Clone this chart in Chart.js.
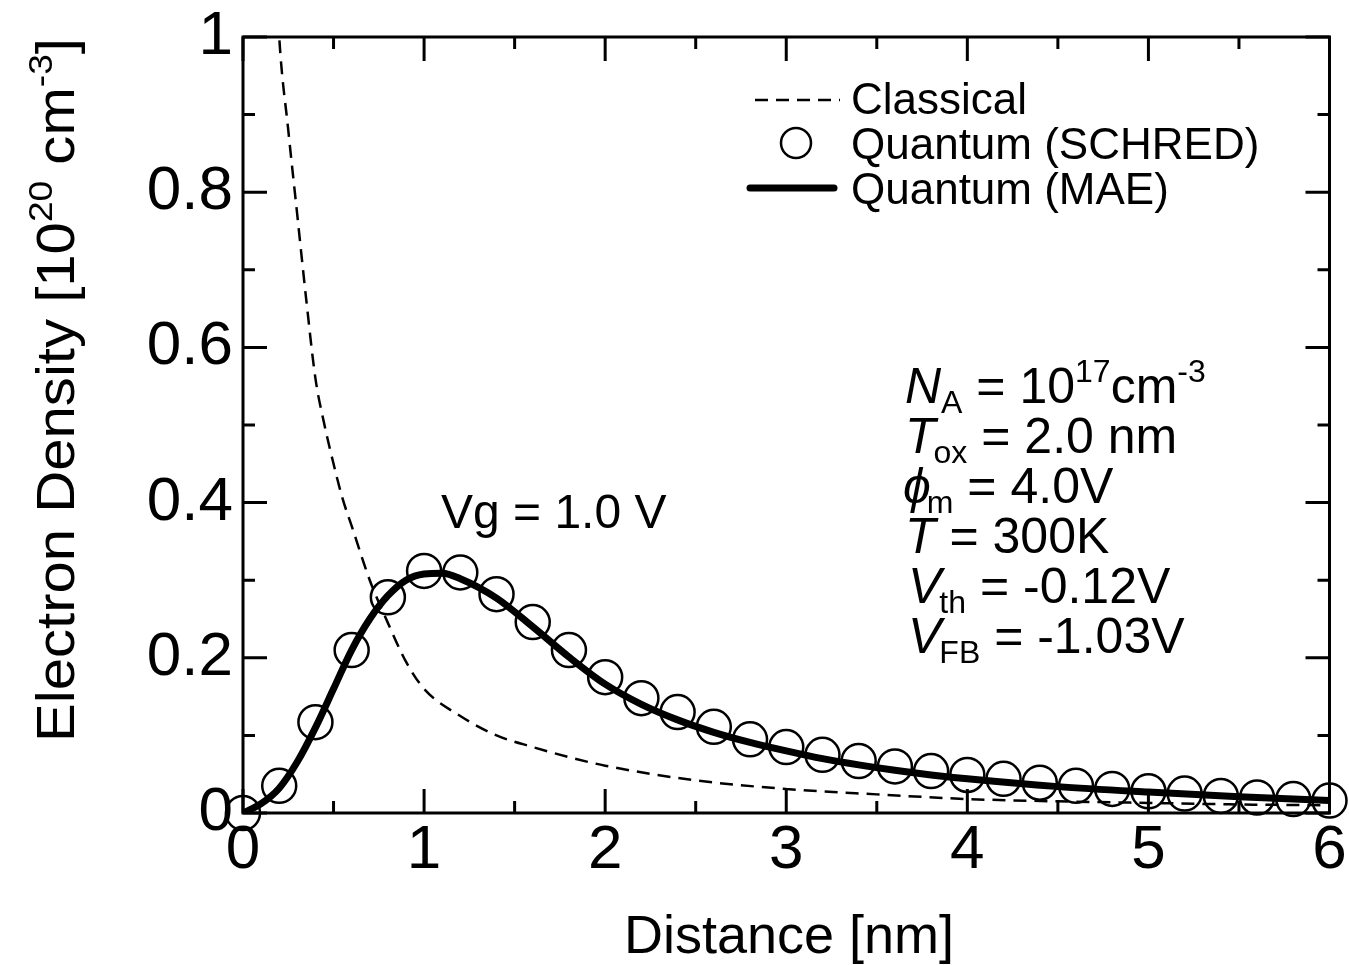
<!DOCTYPE html>
<html>
<head>
<meta charset="utf-8">
<script src="https://cdn.jsdelivr.net/npm/chart.js@4.4.1/dist/chart.umd.min.js"></script>
<style>html,body{margin:0;padding:0;background:#fff}</style>
</head>
<body>
<canvas id="density" width="1349" height="965"></canvas>
<script>
const FONT = '"Liberation Sans", Arial, sans-serif';

// Quantum (SCHRED) - open circles
const schredX = [0, 0.2, 0.4, 0.6, 0.8, 1.0, 1.2, 1.4, 1.6, 1.8, 2.0, 2.2, 2.4, 2.6, 2.8, 3.0,
  3.2, 3.4, 3.6, 3.8, 4.0, 4.2, 4.4, 4.6, 4.8, 5.0, 5.2, 5.4, 5.6, 5.8, 6.0];
const schredY = [0, 0.035, 0.117, 0.210, 0.278, 0.312, 0.310, 0.282, 0.246, 0.210, 0.175, 0.148, 0.130, 0.111, 0.095, 0.085,
  0.075, 0.067, 0.060, 0.054, 0.049, 0.044, 0.039, 0.035, 0.031, 0.028, 0.025, 0.022, 0.020, 0.018, 0.016];

// Quantum (MAE) - thick line
const maeX = [0, 0.1, 0.2, 0.3, 0.4, 0.5, 0.6, 0.7, 0.8, 0.9, 1.0, 1.1, 1.2, 1.4, 1.6, 1.8, 2.0, 2.2, 2.4, 2.6,
  2.8, 3.0, 3.2, 3.4, 3.6, 3.8, 4.0, 4.5, 5.0, 5.5, 6.0];
const maeY = [0, 0.012, 0.032, 0.066, 0.110, 0.160, 0.210, 0.250, 0.280, 0.300, 0.308, 0.309, 0.302, 0.277, 0.240, 0.201, 0.166, 0.140, 0.120, 0.104,
  0.091, 0.080, 0.070, 0.062, 0.055, 0.049, 0.044, 0.034, 0.027, 0.021, 0.016];

// Classical - dashed
const classX = [0.19, 0.2, 0.25, 0.3, 0.35, 0.4, 0.45, 0.5, 0.55, 0.6, 0.7, 0.8, 0.9, 1.0, 1.2, 1.4, 1.6, 1.8, 2.0,
  2.5, 3.0, 3.5, 4.0, 4.5, 5.0, 5.5, 6.0];
const classY = [1.05, 1.0, 0.88, 0.77, 0.66, 0.56, 0.50, 0.45, 0.405, 0.37, 0.30, 0.245, 0.195, 0.16, 0.125, 0.10, 0.085, 0.072, 0.061,
  0.042, 0.031, 0.024, 0.018, 0.015, 0.013, 0.011, 0.010];

const xTicks = [0, 1, 2, 3, 4, 5, 6];
const xMinor = [0.5, 1.5, 2.5, 3.5, 4.5, 5.5];
const yTicks = [0, 0.2, 0.4, 0.6, 0.8, 1];
const yMinor = [0.1, 0.3, 0.5, 0.7, 0.9];

const pts = (xs, ys) => xs.map((x, i) => ({x: x, y: ys[i]}));

// draw text made of runs (normal / italic / sub / sup)
function runs(ctx, parts, x, y, size, measureOnly) {
  let cx = x;
  parts.forEach(p => {
    const small = p.sub || p.sup;
    const s = small ? size * 0.64 : size;
    ctx.font = (p.it ? 'italic ' : '') + s + 'px ' + FONT;
    const dy = p.sub ? size * 0.2 : (p.sup ? -size * 0.42 : 0);
    if (!measureOnly) ctx.fillText(p.t, cx, y + dy);
    cx += ctx.measureText(p.t).width + (p.dx || 0);
  });
  return cx - x;
}

const frame = {
  id: 'frame',
  afterDatasetsDraw(chart) {
    const {ctx, chartArea: a, scales: {x, y}} = chart;
    ctx.save();
    ctx.strokeStyle = '#000';
    ctx.lineWidth = 3;
    ctx.strokeRect(a.left, a.top, a.right - a.left, a.bottom - a.top);
    ctx.beginPath();
    const tickX = (v, len) => {
      const px = x.getPixelForValue(v);
      ctx.moveTo(px, a.bottom); ctx.lineTo(px, a.bottom - len);
      ctx.moveTo(px, a.top); ctx.lineTo(px, a.top + len);
    };
    const tickY = (v, len) => {
      const py = y.getPixelForValue(v);
      ctx.moveTo(a.left, py); ctx.lineTo(a.left + len, py);
      ctx.moveTo(a.right, py); ctx.lineTo(a.right - len, py);
    };
    xTicks.forEach(v => tickX(v, 24));
    xMinor.forEach(v => tickX(v, 12));
    yTicks.forEach(v => tickY(v, 24));
    yMinor.forEach(v => tickY(v, 12));
    ctx.stroke();
    ctx.restore();
  },
  afterDraw(chart) {
    const ctx = chart.ctx;
    ctx.save();
    ctx.fillStyle = '#000';
    ctx.textBaseline = 'alphabetic';
    ctx.textAlign = 'left';

    // x title
    ctx.font = '54px ' + FONT;
    ctx.textAlign = 'center';
    ctx.fillText('Distance [nm]', 789, 953);
    ctx.textAlign = 'left';

    // y title, rotated and condensed
    const yt = [{t: 'Electron Density [10'}, {t: '20', sup: true}, {t: ' cm'}, {t: '-3', sup: true}, {t: ']'}];
    const w = runs(ctx, yt, 0, 0, 53, true);
    ctx.save();
    ctx.translate(74, 742);
    ctx.rotate(-Math.PI / 2);
    ctx.scale(704 / w, 1);
    runs(ctx, yt, 0, 0, 53);
    ctx.restore();

    // legend
    ctx.strokeStyle = '#000';
    ctx.lineWidth = 2.5;
    ctx.setLineDash([13, 8]);
    ctx.beginPath(); ctx.moveTo(755, 100); ctx.lineTo(840, 100); ctx.stroke();
    ctx.setLineDash([]);
    ctx.beginPath(); ctx.arc(796, 143, 15, 0, Math.PI * 2); ctx.stroke();
    ctx.lineWidth = 7;
    ctx.lineCap = 'round';
    ctx.beginPath(); ctx.moveTo(750, 188); ctx.lineTo(834, 188); ctx.stroke();
    ctx.font = '44px ' + FONT;
    ctx.fillText('Classical', 851, 114);
    ctx.fillText('Quantum (SCHRED)', 851, 159);
    ctx.fillText('Quantum (MAE)', 851, 204);

    // annotation
    ctx.font = '48px ' + FONT;
    ctx.fillText('Vg = 1.0 V', 441, 528);

    const S = 50;
    runs(ctx, [{t: 'N', it: true}, {t: 'A', sub: true}, {t: ' = 10'}, {t: '17', sup: true}, {t: 'cm'}, {t: '-3', sup: true}], 905, 403, S);
    runs(ctx, [{t: 'T', it: true, dx: -2}, {t: 'ox', sub: true}, {t: ' = 2.0 nm'}], 905, 453, S);
    runs(ctx, [{t: '\u03d5', it: true, dx: -4}, {t: 'm', sub: true}, {t: ' = 4.0V'}], 903, 503, S);
    runs(ctx, [{t: 'T', it: true}, {t: ' = 300K'}], 905, 553, S);
    runs(ctx, [{t: 'V', it: true, dx: -2}, {t: 'th', sub: true}, {t: ' = -0.12V'}], 908, 603, S);
    runs(ctx, [{t: 'V', it: true, dx: -2}, {t: 'FB', sub: true}, {t: ' = -1.03V'}], 908, 653, S);
    ctx.restore();
  }
};

new Chart(document.getElementById('density'), {
  type: 'scatter',
  data: {
    datasets: [
      {
        label: 'Classical',
        data: pts(classX, classY),
        showLine: true,
        borderColor: '#000',
        borderWidth: 2.5,
        borderDash: [13, 8],
        pointRadius: 0,
        cubicInterpolationMode: 'monotone'
      },
      {
        label: 'Quantum (MAE)',
        data: pts(maeX, maeY),
        showLine: true,
        borderColor: '#000',
        borderWidth: 7,
        pointRadius: 0,
        cubicInterpolationMode: 'monotone'
      },
      {
        label: 'Quantum (SCHRED)',
        data: pts(schredX, schredY),
        showLine: false,
        pointRadius: 17,
        pointBorderWidth: 2.5,
        pointBorderColor: '#000',
        pointBackgroundColor: 'rgba(0,0,0,0)',
        clip: false
      }
    ]
  },
  options: {
    responsive: false,
    animation: false,
    events: [],
    layout: {padding: {left: 0, top: 37, right: 16, bottom: 0}},
    plugins: {legend: {display: false}, tooltip: {enabled: false}},
    scales: {
      x: {
        type: 'linear', min: 0, max: 6,
        afterBuildTicks: s => { s.ticks = xTicks.map(v => ({value: v})); },
        afterFit: s => { s.height = 152; },
        grid: {display: false, drawTicks: false},
        border: {display: false},
        ticks: {color: '#000', padding: 0, font: {family: FONT, size: 62, lineHeight: 1.22}, callback: v => String(v)}
      },
      y: {
        type: 'linear', min: 0, max: 1,
        afterBuildTicks: s => { s.ticks = yTicks.map(v => ({value: v})); },
        afterFit: s => { s.width = 243; },
        grid: {display: false, drawTicks: false},
        border: {display: false},
        ticks: {color: '#000', padding: 10, font: {family: FONT, size: 62, lineHeight: 0.8}, callback: v => String(v)}
      }
    }
  },
  plugins: [frame]
});
</script>
</body>
</html>
